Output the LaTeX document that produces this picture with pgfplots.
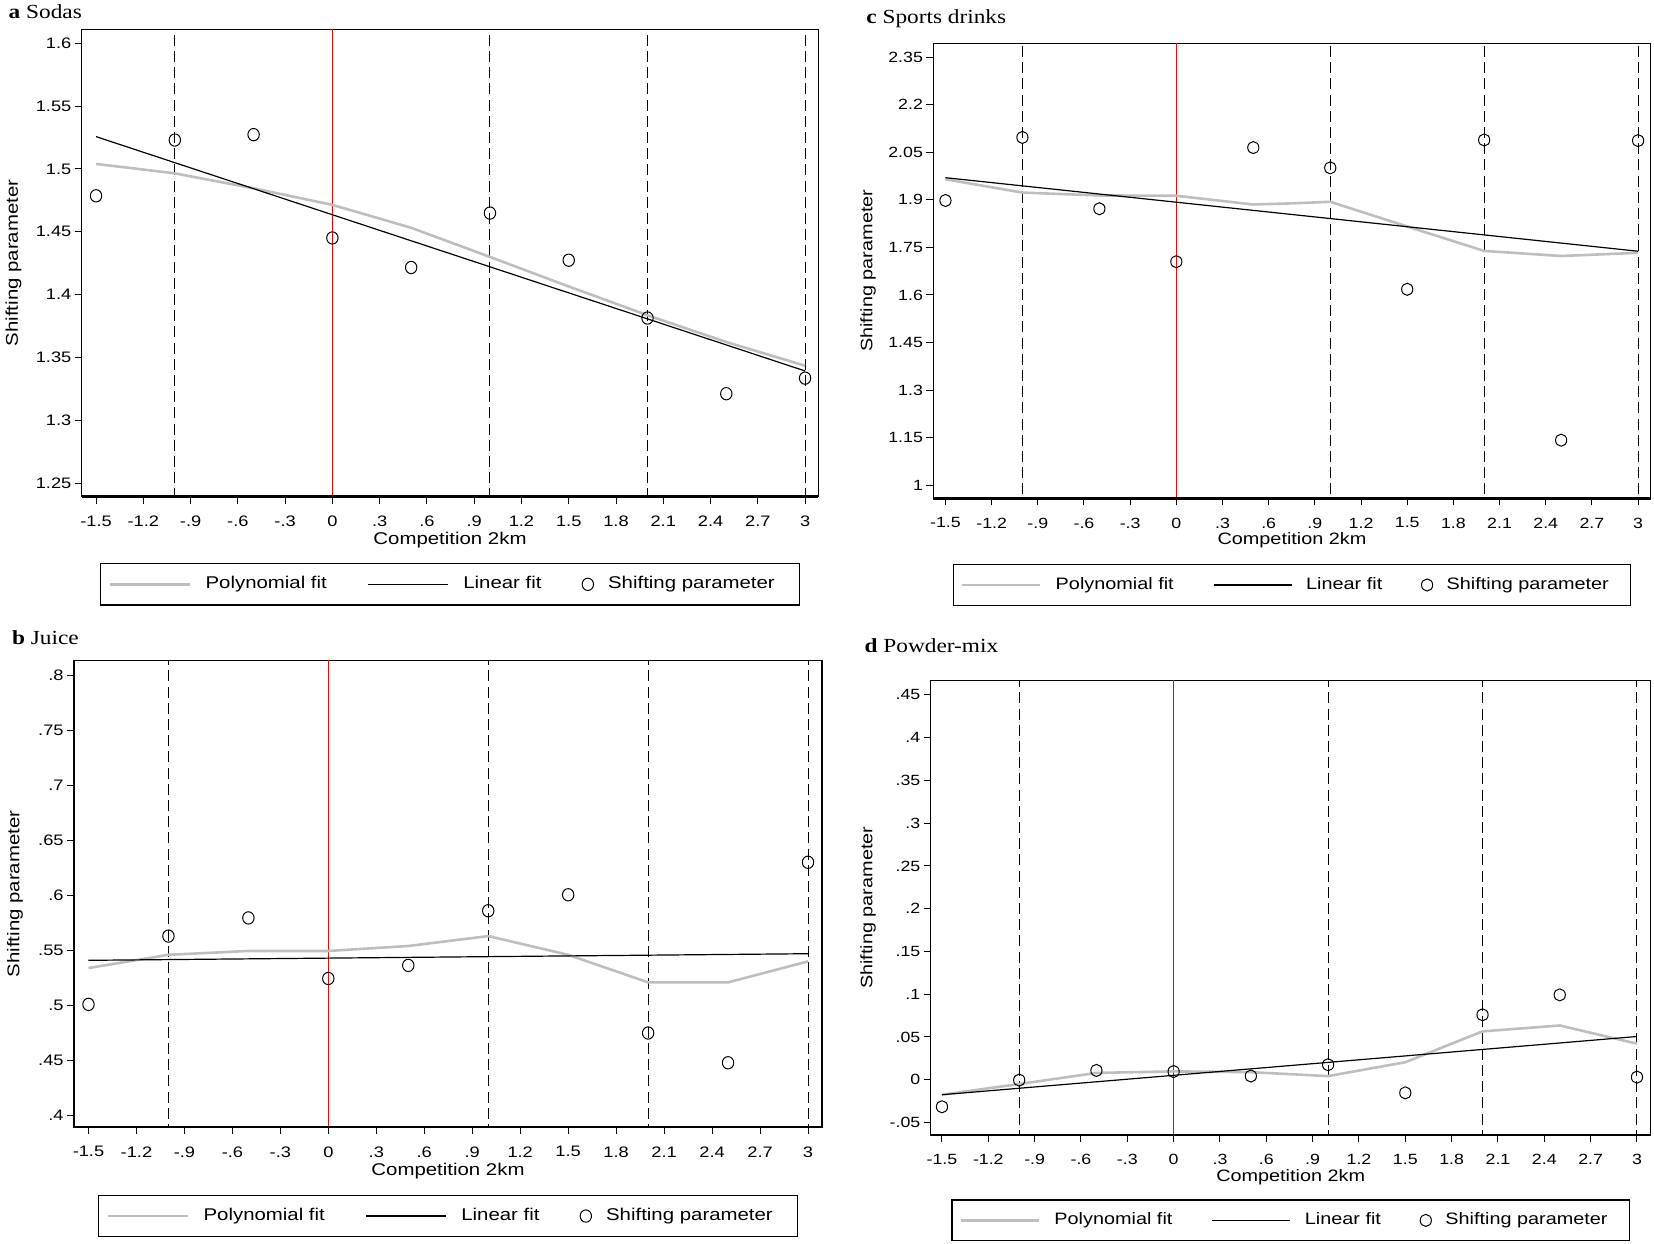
\documentclass[border=0pt]{standalone}
\usepackage{fontspec}
\setmainfont{Liberation Sans}[FakeStretch=1.2]
\newfontfamily\titlefont{Liberation Serif}[FakeStretch=1.165]
\usepackage{pgfplots}
\pgfplotsset{compat=1.18}

\definecolor{polygray}{RGB}{190,190,190}
\definecolor{vred}{RGB}{255,0,0}

\pgfplotsset{
  stata/.style={
    scale only axis,
    anchor=south west,
    tick align=outside,
    tick pos=left,
    major tick length=3.5pt,
    every tick/.style={black, line width=0.5pt},
    axis line style={black, line width=0.6pt},
    xtick={-1.5,-1.2,-0.9,-0.6,-0.3,0,0.3,0.6,0.9,1.2,1.5,1.8,2.1,2.4,2.7,3},
    xticklabels={-1.5,-1.2,-.9,-.6,-.3,0,.3,.6,.9,1.2,1.5,1.8,2.1,2.4,2.7,3},
    xticklabel style={anchor=north, inner sep=0pt, yshift=-6pt},
    yticklabel style={anchor=east, inner sep=0pt, xshift=-1.5pt},
    xlabel={Competition 2km},
    ylabel={Shifting parameter},
    every axis x label/.style={anchor=center},
    every axis y label/.style={anchor=center, rotate=90},
    legend columns=3,
    legend style={anchor=north, draw=black, line width=0.7pt,
      nodes={inner xsep=0pt}},
    extra description/.code={\draw[line width=1.3pt] (0,0) -- (1,0);},
  },
  % panels a and b
  big/.style={
    tick label style={font=\fontsize{7.6}{9}\selectfont},
    label style={font=\fontsize{8.5}{10}\selectfont},
    legend style={font=\fontsize{8.5}{10}\selectfont,
      inner xsep=3.8pt, inner ysep=4.5pt,
      /tikz/every odd column/.append style={column sep=7.3pt},
      /tikz/every even column/.append style={column sep=20.3pt}},
  },
  % panels c and d (same graph, shrunk a little)
  small/.style={
    tick label style={font=\fontsize{7.4}{9}\selectfont},
    label style={font=\fontsize{8.27}{10}\selectfont},
    legend style={font=\fontsize{8.27}{10}\selectfont,
      inner xsep=3.9pt, inner ysep=4.4pt,
      /tikz/every odd column/.append style={column sep=7pt},
      /tikz/every even column/.append style={column sep=19.6pt}},
  },
  polyfit/.style={polygray, line width=1.3pt, no marks,
    legend image code/.code={\draw[##1] (0pt,0pt) -- (#1,0pt);}},
  linfit/.style={black, line width=0.6pt, no marks,
    legend image code/.code={\draw[##1] (0pt,0pt) -- (#1,0pt);}},
  shiftpts/.style={only marks, mark=o, black, mark size=#1,
    mark options={line width=0.5pt, yscale=1.08},
    legend image code/.code={\draw[##1, only marks] plot coordinates {(0pt,0pt)};}},
  dline/.style={forget plot, black, line width=0.5pt, dash pattern=on 5.5pt off 2.6pt},
  rline/.style={forget plot, vred, line width=#1},
}

\begin{document}
\begin{tikzpicture}
\path[use as bounding box] (0,0) rectangle (827pt,621.5pt);

% titles
\node[anchor=base west, inner sep=0pt, font=\titlefont\fontsize{10}{12}\selectfont]
  at (4.15pt,612.35pt) {\textbf{a} Sodas};
\node[anchor=base west, inner sep=0pt, font=\titlefont\fontsize{10}{12}\selectfont]
  at (433pt,609.5pt) {\textbf{c} Sports drinks};
\node[anchor=base west, inner sep=0pt, font=\titlefont\fontsize{10}{12}\selectfont]
  at (5.85pt,299pt) {\textbf{b} Juice};
\node[anchor=base west, inner sep=0pt, font=\titlefont\fontsize{10}{12}\selectfont]
  at (432.15pt,295.35pt) {\textbf{d} Powder-mix};

% a Sodas
\begin{axis}[stata, big,
  at={(40.85pt,373.15pt)}, width=368.3pt, height=233.7pt,
  xmin=-1.591, xmax=3.084, ymin=1.2393, ymax=1.6111,
  ytick={1.25,1.3,1.35,1.4,1.45,1.5,1.55,1.6},
  yticklabels={1.25,1.3,1.35,1.4,1.45,1.5,1.55,1.6},
  xlabel style={at={(axis description cs:0.5,-0.092)}},
  ylabel style={at={(axis description cs:-0.0926,0.5)}},
  legend style={at={(0.5,-0.1418)}},
]
\addplot[dline] coordinates {(-1,0) (-1,3)};
\addplot[dline] coordinates {(1,0) (1,3)};
\addplot[dline] coordinates {(2,0) (2,3)};
\addplot[dline] coordinates {(3,0) (3,3)};
\addplot[rline=0.6pt] coordinates {(0,0) (0,3)};
\addplot[polyfit=40pt] coordinates {(-1.5,1.504) (-1,1.4965) (-0.5,1.4846) (0,1.4714) (0.5,1.4532) (1,1.430) (1.5,1.4065) (2,1.3836) (2.5,1.3623) (3,1.3435)};
\addlegendentry{Polynomial fit}
\addplot[linfit=40pt] coordinates {(-1.5,1.5257) (3,1.3393)};
\addlegendentry{Linear fit}
\addplot[shiftpts=2.85pt] coordinates {(-1.5,1.4786) (-1,1.5230) (-0.5,1.5273) (0,1.4451) (0.5,1.4216) (1,1.4649) (1.5,1.4274) (2,1.3814) (2.5,1.3212) (3,1.3336)};
\addlegendentry{Shifting parameter\rule{8.4pt}{0pt}}
\end{axis}

% c Sports drinks
\begin{axis}[stata, small,
  at={(466.65pt,372.35pt)}, width=358.7pt, height=227.5pt,
  xmin=-1.579, xmax=3.082, ymin=0.9587, ymax=2.394,
  ytick={1,1.15,1.3,1.45,1.6,1.75,1.9,2.05,2.2,2.35},
  yticklabels={1,1.15,1.3,1.45,1.6,1.75,1.9,2.05,2.2,2.35},
  xlabel style={at={(axis description cs:0.5,-0.0919)}},
  ylabel style={at={(axis description cs:-0.091,0.5)}},
  legend style={at={(0.5,-0.1444)}},
]
\addplot[dline] coordinates {(-1,0) (-1,3)};
\addplot[dline] coordinates {(1,0) (1,3)};
\addplot[dline] coordinates {(2,0) (2,3)};
\addplot[dline] coordinates {(3,0) (3,3)};
\addplot[rline=0.6pt] coordinates {(0,0) (0,3)};
\addplot[polyfit=39pt] coordinates {(-1.5,1.965) (-1,1.923) (-0.5,1.914) (0,1.913) (0.5,1.8855) (0.75,1.889) (1,1.894) (1.5,1.816) (2,1.739) (2.5,1.723) (3,1.733)};
\addlegendentry{Polynomial fit}
\addplot[linfit=39pt] coordinates {(-1.5,1.970) (3,1.738)};
\addlegendentry{Linear fit}
\addplot[shiftpts=2.8pt] coordinates {(-1.5,1.898) (-1,2.097) (-0.5,1.872) (0,1.705) (0.5,2.065) (1,2.001) (1.5,1.618) (2,2.089) (2.5,1.142) (3,2.087)};
\addlegendentry{Shifting parameter\rule{7pt}{0pt}}
\end{axis}

% b Juice
\begin{axis}[stata, big,
  at={(37pt,58pt)}, width=374pt, height=233.15pt,
  xmin=-1.5906, xmax=3.0875, ymin=0.3897, ymax=0.813,
  ytick={0.4,0.45,0.5,0.55,0.6,0.65,0.7,0.75,0.8},
  yticklabels={.4,.45,.5,.55,.6,.65,.7,.75,.8},
  xlabel style={at={(axis description cs:0.5,-0.0944)}},
  ylabel style={at={(axis description cs:-0.0789,0.5)}},
  legend style={at={(0.5,-0.1452)}},
]
\addplot[dline] coordinates {(-1,0) (-1,1)};
\addplot[dline] coordinates {(1,0) (1,1)};
\addplot[dline] coordinates {(2,0) (2,1)};
\addplot[dline] coordinates {(3,0) (3,1)};
\addplot[rline=0.6pt] coordinates {(0,0) (0,1)};
\addplot[polyfit=40pt] coordinates {(-1.5,0.534) (-1,0.546) (-0.5,0.5495) (0,0.5495) (0.5,0.554) (1,0.563) (1.5,0.546) (2,0.521) (2.5,0.521) (3,0.540)};
\addlegendentry{Polynomial fit}
\addplot[linfit=40pt] coordinates {(-1.5,0.541) (3,0.547)};
\addlegendentry{Linear fit}
\addplot[shiftpts=2.85pt] coordinates {(-1.5,0.501) (-1,0.563) (-0.5,0.5795) (0,0.5245) (0.5,0.5364) (1,0.586) (1.5,0.6005) (2,0.475) (2.5,0.448) (3,0.630)};
\addlegendentry{Shifting parameter\rule{8.4pt}{0pt}}
\end{axis}

% d Powder-mix
\begin{axis}[stata, small,
  at={(465.35pt,54pt)}, width=360pt, height=227.15pt,
  xmin=-1.573, xmax=3.089, ymin=-0.0647, ymax=0.4667,
  ytick={-0.05,0,0.05,0.1,0.15,0.2,0.25,0.3,0.35,0.4,0.45},
  yticklabels={-.05,0,.05,.1,.15,.2,.25,.3,.35,.4,.45},
  xlabel style={at={(axis description cs:0.5,-0.0924)}},
  ylabel style={at={(axis description cs:-0.0871,0.5)}},
  legend style={at={(0.5,-0.1418)}},
]
\addplot[dline] coordinates {(-1,-1) (-1,1)};
\addplot[dline] coordinates {(1,-1) (1,1)};
\addplot[dline] coordinates {(2,-1) (2,1)};
\addplot[dline] coordinates {(3,-1) (3,1)};
\addplot[rline=0.4pt] coordinates {(0,-1) (0,1)};
\addplot[polyfit=39pt] coordinates {(-1.5,-0.0176) (-1,-0.0051) (-0.5,0.0079) (0,0.0097) (0.5,0.0088) (1,0.0042) (1.5,0.0204) (2,0.0565) (2.5,0.0634) (3,0.0421)};
\addlegendentry{Polynomial fit}
\addplot[linfit=39pt] coordinates {(-1.5,-0.0176) (3,0.0505)};
\addlegendentry{Linear fit}
\addplot[shiftpts=2.8pt] coordinates {(-1.5,-0.0317) (-1,-0.0005) (-0.5,0.0108) (0,0.0095) (0.5,0.0043) (1,0.0175) (1.5,-0.0154) (2,0.0759) (2.5,0.0992) (3,0.0030)};
\addlegendentry{Shifting parameter\rule{7pt}{0pt}}
\end{axis}
\end{tikzpicture}
\end{document}
